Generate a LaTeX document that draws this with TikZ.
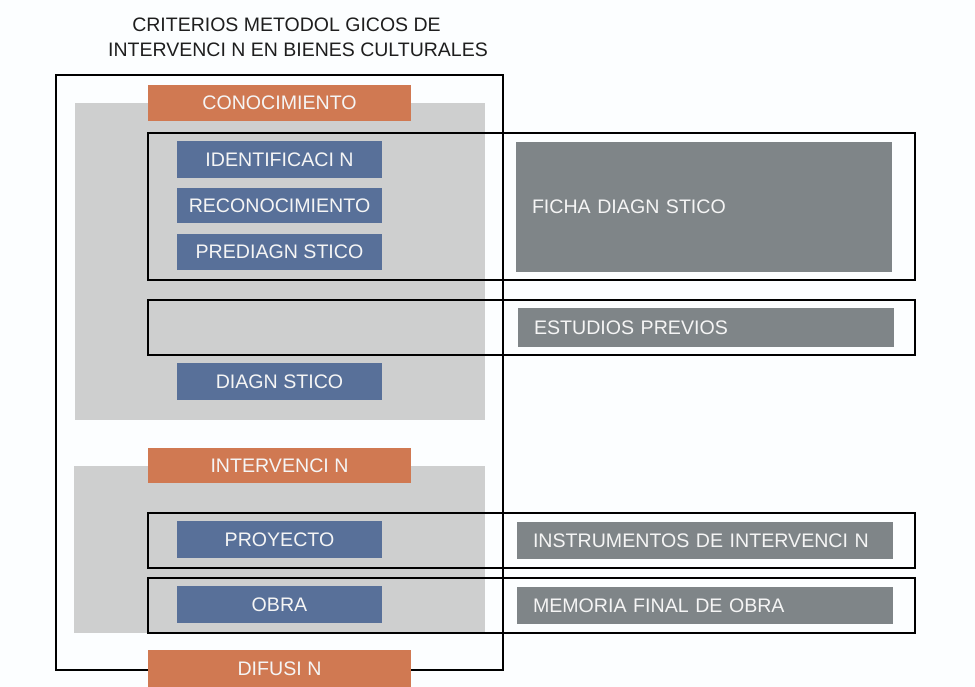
\documentclass[tikz,border=0pt]{standalone}
\usepackage{fontspec}
\setmainfont{Liberation Sans}
\usetikzlibrary{positioning}

\definecolor{phaseOrange}{RGB}{208,121,82}
\definecolor{stepBlue}{RGB}{88,112,153}
\definecolor{docGrey}{RGB}{127,133,136}
\definecolor{panelGrey}{RGB}{206,207,207}
\definecolor{titleInk}{RGB}{30,30,30}

\begin{document}
\begin{tikzpicture}[x=1pt, y=-1pt,
    boxtext/.style={text=white!96!black, inner sep=0pt, font=\fontsize{19.6}{21}\selectfont},
    phase/.style={boxtext, fill=phaseOrange, minimum width=263pt, minimum height=36pt},
    stepbox/.style={boxtext, fill=stepBlue, minimum width=205pt, minimum height=36pt},
    docbox/.style={boxtext, fill=docGrey, inner xsep=16pt, text width=344pt, align=left, minimum height=37pt},
    rowframe/.style={draw=black, line width=1.4pt}
]
    \def\stepX{279.5}
    \def\docX{705}

    % Background and bounding box
    \fill[white!99!cyan] (0,0) rectangle (975,687);
    \useasboundingbox (0,0) rectangle (975,687);

    % Title
    \node[text=titleInk, font=\fontsize{19.5}{21}\selectfont] (title1) at (286.5,25) {CRITERIOS METODOL GICOS DE};
    \node[text=titleInk, font=\fontsize{19.5}{21}\selectfont] (title2) at (298,50) {INTERVENCI N EN BIENES CULTURALES};

    % Grey panels behind each phase
    \fill[panelGrey] (75,103) rectangle (485,420);
    \fill[panelGrey] (74,466) rectangle (485,633);

    % Phases
    \node[phase] (conoc) at (\stepX,103) {CONOCIMIENTO};
    \node[phase, minimum height=35pt] (interv) at (\stepX,465.5) {INTERVENCI N};

    % Steps
    \node[stepbox, minimum height=37pt] (ident) at (\stepX,159.5) {IDENTIFICACI N};
    \node[stepbox, minimum height=35pt] (recon) at (\stepX,205.5) {RECONOCIMIENTO};
    \node[stepbox] (prediag) at (\stepX,252) {PREDIAGN STICO};
    \node[stepbox, minimum height=37pt] (diag) at (\stepX,381.5) {DIAGN STICO};
    \node[stepbox, minimum height=37pt] (proyecto) at (\stepX,539.5) {PROYECTO};
    \node[stepbox, minimum height=37pt] (obra) at (\stepX,604.5) {OBRA};

    % Documents
    \node[docbox, minimum height=130pt] (ficha) at (704,207) {FICHA DIAGN STICO};
    \node[docbox, minimum height=39pt] (estudios) at (706,327.5) {ESTUDIOS PREVIOS};
    \node[docbox] (instrum) at (\docX,540.5) {INSTRUMENTOS DE INTERVENCI N};
    \node[docbox] (memoria) at (\docX,605.5) {MEMORIA FINAL DE OBRA};

    % Row frames linking steps and documents
    \draw[rowframe] (148,133) rectangle (915,280);
    \draw[rowframe] (148,300) rectangle (915,355);
    \draw[rowframe] (148,513) rectangle (915,568);
    \draw[rowframe] (148,578) rectangle (915,633);

    % Outer frame
    \draw[draw=black, line width=1.4pt] (56,75) rectangle (503,670);

    % Last phase sits on the frame
    \node[phase, minimum height=37pt] (difus) at (\stepX,668.5) {DIFUSI N};
\end{tikzpicture}
\end{document}
